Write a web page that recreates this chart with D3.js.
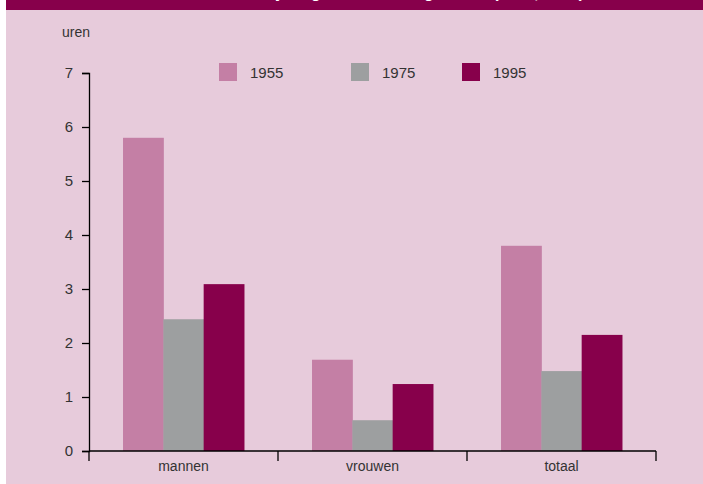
<!DOCTYPE html>
<html>
<head>
<meta charset="utf-8">
<style>
    body { margin: 0; background: #fff; }
    svg { display: block; font-family: "Liberation Sans", Arial, sans-serif; }
</style>
</head>
<body>
<svg width="703" height="484"></svg>
<script src="https://cdnjs.cloudflare.com/ajax/libs/d3/7.8.5/d3.min.js"></script>
<script>
    // data
    var categories = ["mannen", "vrouwen", "totaal"];
    var years = ["1955", "1975", "1995"];
    var v1955 = [5.8, 1.69, 3.8];
    var v1975 = [2.44, 0.57, 1.48];
    var v1995 = [3.09, 1.24, 2.15];
    var yTicks = [0, 1, 2, 3, 4, 5, 6, 7];
    var colors = ["#c47fa5", "#9d9fa0", "#87004b"];

    var series = [v1955, v1975, v1995];

    var svg = d3.select("svg");

    // background + title band (title is cut off at the top, as in the original)
    svg.append("rect").attr("x", 6).attr("y", 0).attr("width", 697).attr("height", 484).attr("fill", "#e7cbdb");
    svg.append("rect").attr("x", 6).attr("y", 0).attr("width", 697).attr("height", 10).attr("fill", "#87004b");
    svg.append("text")
        .attr("x", 420).attr("y", -2)
        .attr("text-anchor", "middle")
        .attr("fill", "#fff")
        .attr("font-size", 16)
        .attr("font-weight", "bold")
        .text("Vrijwilligerswerk naar geslacht (1955, 1995)");

    var x0 = d3.scaleBand()
        .domain(categories)
        .range([89, 656])
        .paddingInner(0.36)
        .paddingOuter(0.18);

    var x1 = d3.scaleBand()
        .domain(years)
        .range([0, x0.bandwidth()]);

    var y = d3.scaleLinear()
        .domain([0, 7])
        .range([451, 73]);

    // bars
    var g = svg.append("g");
    categories.forEach(function (c, i) {
        years.forEach(function (yr, j) {
            g.append("rect")
                .attr("x", x0(c) + x1(yr))
                .attr("y", y(series[j][i]))
                .attr("width", x1.bandwidth() + 0.5)
                .attr("height", y(0) - y(series[j][i]))
                .attr("fill", colors[j]);
        });
    });

    // y axis
    var yAxis = svg.append("g")
        .attr("transform", "translate(89,0)")
        .call(d3.axisLeft(y).tickValues(yTicks).tickFormat(d3.format("d")).tickSize(7).tickPadding(9));
    yAxis.select(".domain").attr("stroke", "#000").attr("stroke-width", 1.3);
    yAxis.selectAll(".tick line").attr("stroke", "#000").attr("stroke-width", 1.3);
    yAxis.selectAll("text").attr("font-size", 15).attr("fill", "#333").attr("font-family", "Liberation Sans, Arial, sans-serif");

    // x axis
    var xLine = d3.scaleLinear().domain([0, 3]).range([89, 656]);
    var xAxis = svg.append("g").attr("transform", "translate(0,451)");
    xAxis.append("line")
        .attr("x1", xLine(0)).attr("x2", xLine(3))
        .attr("stroke", "#000").attr("stroke-width", 1.3);
    xAxis.selectAll(".xtick")
        .data(d3.range(4))
        .enter().append("line")
        .attr("x1", function (d) { return xLine(d); })
        .attr("x2", function (d) { return xLine(d); })
        .attr("y1", 0).attr("y2", 10)
        .attr("stroke", "#000").attr("stroke-width", 1.3);
    xAxis.selectAll(".xlabel")
        .data(categories)
        .enter().append("text")
        .attr("x", function (d) { return x0(d) + x0.bandwidth() / 2; })
        .attr("y", 20)
        .attr("text-anchor", "middle")
        .attr("font-size", 14)
        .attr("fill", "#333")
        .text(function (d) { return d; });

    // unit label
    svg.append("text")
        .attr("x", 62).attr("y", 37)
        .attr("font-size", 14)
        .attr("fill", "#333")
        .text("uren");

    // legend
    var legendX = [219, 351, 462];
    var legend = svg.append("g");
    years.forEach(function (yr, j) {
        legend.append("rect")
            .attr("x", legendX[j]).attr("y", 63)
            .attr("width", 18).attr("height", 18)
            .attr("fill", colors[j]);
        legend.append("text")
            .attr("x", legendX[j] + 31).attr("y", 78)
            .attr("font-size", 15)
            .attr("fill", "#333")
            .text(yr);
    });
</script>
</body>
</html>
